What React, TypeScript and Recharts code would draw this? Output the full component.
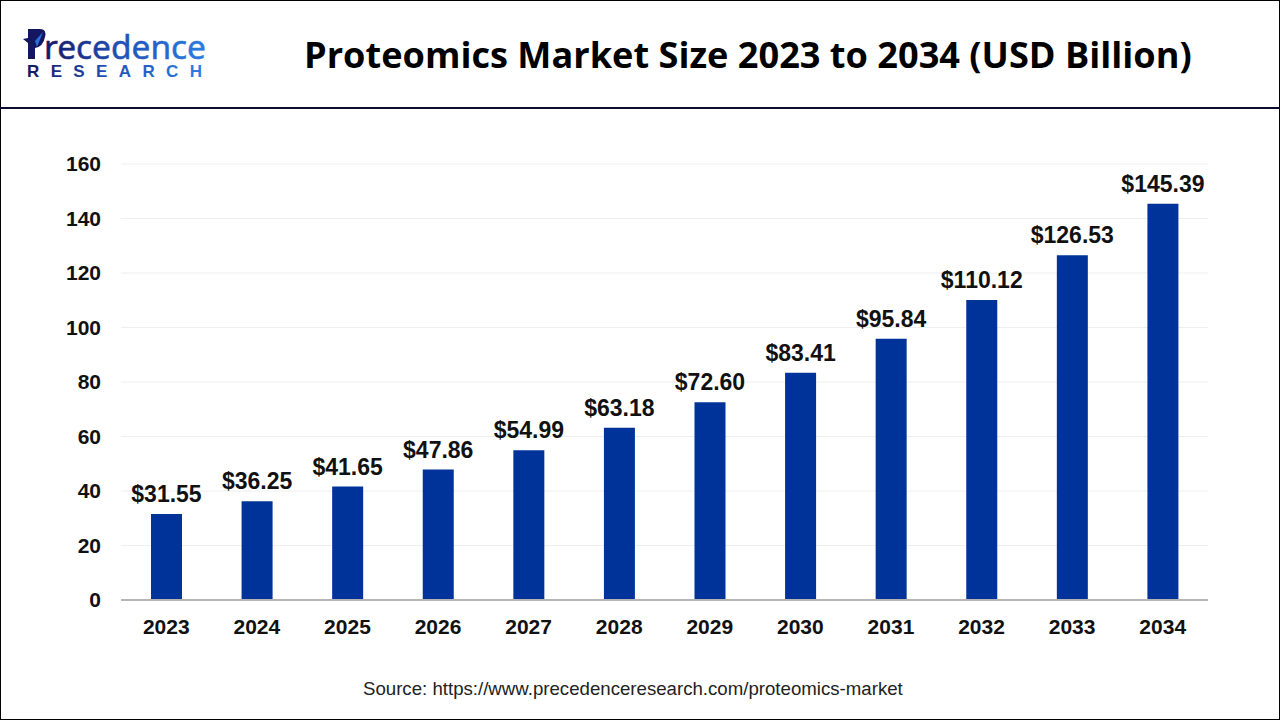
import { Bar, BarChart, CartesianGrid, LabelList, XAxis, YAxis } from "recharts";

const YEARS = ["2023", "2024", "2025", "2026", "2027", "2028", "2029", "2030", "2031", "2032", "2033", "2034"];
const MARKET_SIZE = [31.55, 36.25, 41.65, 47.86, 54.99, 63.18, 72.6, 83.41, 95.84, 110.12, 126.53, 145.39];
const Y_TICKS = [0, 20, 40, 60, 80, 100, 120, 140, 160];

const rows = YEARS.map((year, i) => ({ year, value: MARKET_SIZE[i] }));

const ARIAL = "'Liberation Sans', Arial, sans-serif";

function Logo() {
  return (
    <svg width={220} height={90} style={{ position: "absolute", left: 0, top: 10 }}>
      <defs>
        <linearGradient id="logoGrad" x1="0" y1="0" x2="1" y2="0">
          <stop offset="0%" stopColor="#14175f" />
          <stop offset="45%" stopColor="#1f4fb5" />
          <stop offset="100%" stopColor="#2b7de0" />
        </linearGradient>
      </defs>
      <path d="M28 19 H40 Q47 19 45 27 Q43 37 35 38 V49 H28 V33 L23 29 L28 28 Z" fill="#14175f" />
      <path d="M43 22 L37 37 L35 31 Z" fill="#2b6fdc" />
      <text
        x={44}
        y={49}
        fontFamily="'Noto Sans', sans-serif"
        fontSize={32}
        fill="url(#logoGrad)"
        stroke="url(#logoGrad)"
        strokeWidth={0.5}
        textLength={162}
        lengthAdjust="spacingAndGlyphs"
      >
        recedence
      </text>
      <text x={27} y={67} fontFamily={ARIAL} fontWeight={700} fontSize={17} fill="url(#logoGrad)" textLength={175}>
        RESEARCH
      </text>
    </svg>
  );
}

export default function App() {
  return (
    <div style={{ position: "absolute", left: 0, top: 0, width: 1280, height: 720, background: "#fff", overflow: "hidden" }}>
      <BarChart
        width={1280}
        height={720}
        data={rows}
        margin={{ top: 164, right: 72, bottom: 80, left: 61 }}
        barSize={31}
      >
        <CartesianGrid vertical={false} stroke="#eeeeee" strokeWidth={1} />
        <XAxis
          dataKey="year"
          axisLine={{ stroke: "#b5b5b5", strokeWidth: 2 }}
          tickLine={false}
          tickMargin={13}
          height={40}
          interval={0}
          tick={{ fontFamily: ARIAL, fontSize: 21, fontWeight: 700, fill: "#111111" }}
        />
        <YAxis
          domain={[0, 160]}
          ticks={Y_TICKS}
          width={60}
          axisLine={false}
          tickLine={false}
          tickMargin={14}
          tick={{ fontFamily: ARIAL, fontSize: 21, fontWeight: 700, fill: "#111111" }}
        />
        <Bar dataKey="value" fill="#003399" isAnimationActive={false}>
          <LabelList
            dataKey="value"
            position="top"
            offset={12}
            formatter={(v: number) => `$${v.toFixed(2)}`}
            style={{ fontFamily: ARIAL, fontSize: 23, fontWeight: 700, fill: "#111111" }}
          />
        </Bar>
      </BarChart>

      <div style={{ position: "absolute", left: 0, top: 0, width: 1278, height: 718, border: "1px solid #000" }} />
      <div style={{ position: "absolute", left: 0, top: 107, width: 1280, height: 2, background: "#0b0b2e" }} />
      <Logo />
      <div
        style={{
          position: "absolute",
          left: 304,
          top: 29,
          fontFamily: "'Open Sans', sans-serif",
          fontWeight: 700,
          fontSize: 36.15,
          lineHeight: "50px",
          color: "#000",
          whiteSpace: "nowrap",
        }}
      >
        Proteomics Market Size 2023 to 2034 (USD Billion)
      </div>
      <div
        style={{
          position: "absolute",
          left: 363,
          top: 679,
          fontFamily: ARIAL,
          fontSize: 18.65,
          lineHeight: "20px",
          color: "#222",
          whiteSpace: "nowrap",
        }}
      >
        Source: https://www.precedenceresearch.com/proteomics-market
      </div>
    </div>
  );
}
